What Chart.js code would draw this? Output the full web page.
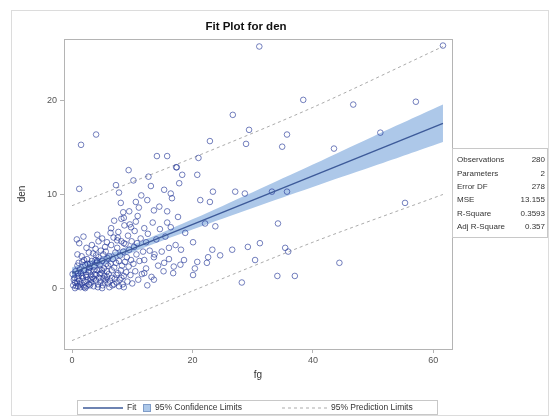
<!DOCTYPE html>
<html>
<head>
<meta charset="utf-8">
<script src="https://cdn.jsdelivr.net/npm/chart.js@4/dist/chart.umd.min.js"></script>
<style>
  html, body { margin: 0; padding: 0; background: #fff; }
  #wrap { width: 550px; height: 417px; position: relative; }
</style>
</head>
<body>
<div id="wrap"><canvas id="fitChart"></canvas></div>
<script>
// observations (fg, den)
const fgValues = [
  31.1, 61.6, 38.4, 26.7, 29.4, 35.7, 28.9, 34.9, 22.9, 21.0, 46.7, 57.1, 51.2, 43.5, 55.3, 44.4, 4.0, 1.5, 14.1, 15.8, 17.4,
  1.2, 7.3, 0.8, 17.3, 18.3, 17.8, 15.3, 16.4, 16.6, 11.5, 12.5, 8.1, 8.5, 8.6, 13.6, 14.5, 15.8, 10.6, 9.8, 6.5, 4.2, 5.0, 5.8, 7.5, 8.6, 10.8, 12.3,
  16.1, 18.1, 12.0, 13.6, 15.3, 16.9, 18.6, 12.0, 13.6, 12.5,
  20.8, 23.4, 21.3, 22.9, 27.1, 28.7, 33.2, 35.7, 22.1, 23.8, 34.2, 20.1, 23.3, 24.6, 26.6, 29.2, 31.2, 35.4, 35.9, 22.6, 20.8, 22.4, 30.4, 20.4, 20.1, 28.2, 34.1, 37.0,
  0.2, 0.4, 0.5, 0.6, 0.8, 0.9, 1.0, 1.1, 1.2, 1.3, 1.4, 1.5, 1.6, 1.7, 1.8, 1.9, 2.0, 2.1, 2.2, 2.3, 2.4, 2.5, 2.6, 2.7, 2.8, 2.9, 3.0, 0.3, 0.7, 1.0, 1.6, 2.2, 2.6, 0.1, 3.0,
  3.1, 3.2, 3.3, 3.4, 3.5, 3.6, 3.7, 3.8, 3.9, 4.0, 4.1, 4.2, 4.3, 4.4, 4.5, 4.6, 4.7, 4.8, 4.9, 5.0, 5.1, 5.2, 5.3, 5.4, 5.5, 5.6, 5.7, 5.8, 5.9, 6.0, 3.3, 3.9, 4.4, 4.7, 5.2, 5.6, 6.0, 3.6, 4.2, 5.0,
  6.1, 6.2, 6.3, 6.4, 6.5, 6.6, 6.7, 6.8, 6.9, 7.0, 7.1, 7.2, 7.3, 7.4, 7.5, 7.6, 7.7, 7.8, 7.9, 8.0, 8.1, 8.2, 8.3, 8.4, 8.5, 8.6, 8.7, 8.8, 8.9, 9.0, 6.4, 7.0, 7.6, 8.2, 8.6,
  9.1, 9.2, 9.3, 9.4, 9.5, 9.6, 9.7, 9.8, 9.9, 10.0, 10.2, 10.3, 10.4, 10.5, 10.7, 10.9, 11.0, 11.2, 11.4, 11.6, 11.8, 12.0, 11.1, 10.6, 9.5,
  12.3, 12.6, 12.9, 13.2, 13.4, 13.7, 14.0, 14.3, 14.6, 14.9, 15.2, 15.5, 15.8, 16.1, 16.4, 16.8, 17.2, 17.6, 18.0, 18.8,
  1.2, 2.4, 0.9, 1.9, 2.8, 9.4, 10.2, 7.8, 12.7, 13.1,
  0.5, 0.9, 1.3, 1.7, 2.0, 2.4, 2.8, 3.2, 3.6, 4.0, 4.3, 4.6, 5.0, 5.4, 5.8, 6.2, 6.6, 7.0, 7.4, 7.8, 8.2, 1.1, 2.0, 3.0, 4.0
];
const denValues = [
  25.8, 25.9, 20.1, 18.5, 16.9, 16.4, 15.4, 15.1, 15.7, 13.9, 19.6, 19.9, 16.6, 14.9, 9.1, 2.7, 16.4, 15.3, 14.1, 14.1, 12.9,
  10.6, 11.0, 5.2, 12.9, 12.1, 11.2, 10.5, 10.1, 9.6, 9.9, 9.4, 9.1, 8.1, 7.5, 8.3, 8.7, 7.0, 7.1, 6.5, 6.4, 5.7, 5.3, 4.9, 5.1, 4.8, 4.8, 4.9,
  4.3, 4.1, 3.0, 3.3, 2.7, 2.3, 3.0, 1.6, 0.9, 0.3,
  12.1, 10.3, 9.4, 9.2, 10.3, 10.1, 10.3, 10.3, 6.9, 6.6, 6.9, 4.9, 4.1, 3.5, 4.1, 4.4, 4.8, 4.3, 3.9, 3.3, 2.8, 2.7, 3.0, 2.1, 1.4, 0.6, 1.3, 1.3,
  0.3, 1.1, 0.0, 1.8, 0.6, 2.4, 0.2, 1.3, 0.8, 2.0, 0.1, 1.6, 0.5, 2.8, 1.1, 0.3, 1.9, 0.7, 2.5, 1.4, 0.2, 3.1, 0.9, 1.7, 0.4, 2.2, 1.0, 0.9, 0.2, 1.6, 3.4, 0.0, 2.6, 1.5, 0.3,
  1.8, 0.6, 2.9, 1.2, 3.7, 0.2, 2.3, 1.5, 4.2, 0.8, 2.7, 1.9, 0.4, 3.3, 1.1, 2.5, 0.7, 4.0, 1.6, 2.9, 0.3, 3.6, 2.1, 1.3, 4.4, 0.9, 2.6, 1.8, 3.2, 0.5, 4.6, 3.0, 5.0, 2.0, 1.0, 3.9, 2.4, 1.0, 2.9, 0.0,
  1.5, 3.4, 0.8, 2.6, 4.6, 1.9, 0.3, 3.1, 5.4, 2.2, 1.0, 3.8, 2.7, 0.6, 4.3, 1.6, 6.0, 2.9, 0.9, 3.5, 1.9, 5.0, 2.4, 0.4, 3.9, 1.3, 6.7, 2.8, 4.7, 1.7, 5.9, 7.2, 5.4, 7.4, 0.1,
  3.3, 0.7, 5.6, 2.3, 4.1, 6.8, 1.4, 3.0, 5.0, 0.5, 2.6, 4.4, 6.1, 1.8, 3.6, 7.7, 0.9, 2.9, 5.3, 1.5, 3.9, 6.4, 8.6, 9.2, 8.2,
  2.1, 5.8, 4.0, 1.2, 7.0, 3.6, 5.2, 2.4, 6.3, 3.9, 1.8, 5.5, 8.2, 3.1, 6.5, 1.6, 4.6, 7.6, 2.5, 5.9,
  4.8, 4.3, 3.6, 5.5, 3.8, 12.6, 11.5, 10.2, 11.9, 10.9,
  0.6, 1.0, 0.4, 1.3, 0.1, 1.2, 1.9, 0.9, 1.9, 1.4, 0.1, 1.5, 1.9, 0.6, 1.2, 0.1, 1.1, 0.4, 1.4, 0.2, 1.1, 2.7, 3.0, 2.6, 3.5
];

// fitted line, 95% confidence band and 95% prediction limits
const fitX = [0, 61.6];
const fitY = [1.6, 17.6];
const bandX = [0, 10, 20, 30, 40, 50, 61.6];
const clUpper = [2.2, 4.6, 7.35, 10.25, 13.2, 16.2, 19.6];
const clLower = [1.0, 3.8, 6.25, 8.55, 10.8, 13.0, 15.6];
const predX = [0, 20, 40, 61.6];
const predUpper = [8.8, 13.9, 19.3, 25.8];
const predLower = [-5.6, -0.3, 4.9, 10.0];

const xTicks = [0, 20, 40, 60];
const yTicks = [0, 10, 20];

const statLabels = ['Observations', 'Parameters', 'Error DF', 'MSE', 'R-Square', 'Adj R-Square'];
const statValues = ['280', '2', '278', '13.155', '0.3593', '0.357'];

const toPts = (xs, ys) => xs.map((x, i) => ({ x: x, y: ys[i] }));

const FONT = '"Liberation Sans", Arial, sans-serif';
const BAND = '#adc8e9';
const FITC = '#3d5a99';
const PREDC = '#ababab';

const framePlugin = {
    id: 'frame',
    beforeDraw(chart) {
        const c = chart.ctx;
        c.save();
        c.fillStyle = '#fff';
        c.fillRect(0, 0, chart.width, chart.height);
        c.strokeStyle = '#dcdcdc';
        c.lineWidth = 1;
        c.strokeRect(11.5, 10.5, 537, 405);
        c.restore();
    },
    afterDraw(chart) {
        const c = chart.ctx;
        const a = chart.chartArea;
        c.save();
        c.strokeStyle = '#b4b4b4';
        c.lineWidth = 1;
        c.strokeRect(Math.round(a.left) + 0.5, Math.round(a.top) + 0.5, Math.round(a.right - a.left), Math.round(a.bottom - a.top));

        // title
        c.fillStyle = '#111';
        c.font = 'bold 11.5px ' + FONT;
        c.textAlign = 'center';
        c.textBaseline = 'middle';
        c.fillText('Fit Plot for den', 246, 27);

        // stats table
        c.strokeStyle = '#c8c8c8';
        c.strokeRect(452.5, 148.5, 95, 89);
        c.font = '8px ' + FONT;
        c.fillStyle = '#333';
        statLabels.forEach((lab, i) => {
            const y = 160 + i * 13.4;
            c.textAlign = 'left';
            c.fillText(lab, 457, y);
            c.textAlign = 'right';
            c.fillText(statValues[i], 545, y);
        });

        // legend
        c.strokeStyle = '#c8c8c8';
        c.strokeRect(77.5, 400.5, 360, 14);
        const ly = 408;
        c.strokeStyle = FITC;
        c.lineWidth = 1.3;
        c.beginPath(); c.moveTo(83, ly); c.lineTo(123, ly); c.stroke();
        c.fillStyle = BAND;
        c.fillRect(143, ly - 4, 8, 8);
        c.lineWidth = 1;
        c.strokeStyle = '#7f9cc8';
        c.strokeRect(143.5, ly - 3.5, 7, 7);
        c.strokeStyle = PREDC;
        c.setLineDash([3, 3]);
        c.beginPath(); c.moveTo(282, ly); c.lineTo(327, ly); c.stroke();
        c.setLineDash([]);
        c.fillStyle = '#333';
        c.font = '8.5px ' + FONT;
        c.textAlign = 'left';
        c.fillText('Fit', 127, ly);
        c.fillText('95% Confidence Limits', 155, ly);
        c.fillText('95% Prediction Limits', 331, ly);
        c.restore();
    }
};

new Chart(document.getElementById('fitChart'), {
    type: 'scatter',
    data: {
        datasets: [
            { type: 'line', data: toPts(bandX, clLower), borderWidth: 0, pointRadius: 0, borderColor: BAND, fill: false, tension: 0.4, order: 5 },
            { type: 'line', data: toPts(bandX, clUpper), borderWidth: 0, pointRadius: 0, borderColor: BAND, backgroundColor: BAND, fill: 0, tension: 0.4, order: 4 },
            { type: 'line', data: toPts(predX, predUpper), borderColor: PREDC, borderWidth: 1, borderDash: [3, 3], pointRadius: 0, fill: false, tension: 0.3, order: 3 },
            { type: 'line', data: toPts(predX, predLower), borderColor: PREDC, borderWidth: 1, borderDash: [3, 3], pointRadius: 0, fill: false, tension: 0.3, order: 3 },
            { data: toPts(fgValues, denValues), pointStyle: 'circle', pointRadius: 2.8, borderWidth: 1,
              borderColor: 'rgba(32, 52, 150, 0.62)', backgroundColor: 'rgba(0,0,0,0)', order: 2 },
            { type: 'line', data: toPts(fitX, fitY), borderColor: FITC, borderWidth: 1.4, pointRadius: 0, fill: false, order: 1 }
        ]
    },
    options: {
        responsive: true,
        maintainAspectRatio: false,
        animation: false,
        events: [],
        layout: { padding: { left: 12, right: 98, top: 39, bottom: 36 } },
        plugins: { legend: { display: false }, tooltip: { enabled: false } },
        scales: {
            x: {
                type: 'linear', min: -1.33, max: 63.1,
                afterBuildTicks: s => { s.ticks = xTicks.map(v => ({ value: v })); },
                afterFit: s => { s.height = 32; },
                grid: { display: true, drawOnChartArea: false, tickLength: 4, color: '#b4b4b4' },
                border: { color: '#b4b4b4' },
                ticks: { color: '#555', font: { size: 9, family: FONT }, padding: 2, maxRotation: 0 },
                title: { display: true, text: 'fg', color: '#333', font: { size: 10, family: FONT }, padding: 0 }
            },
            y: {
                type: 'linear', min: -6.5, max: 26.6,
                afterBuildTicks: s => { s.ticks = yTicks.map(v => ({ value: v })); },
                afterFit: s => { s.width = 52; },
                grid: { display: true, drawOnChartArea: false, tickLength: 4, color: '#b4b4b4' },
                border: { color: '#b4b4b4' },
                ticks: { color: '#555', font: { size: 9, family: FONT }, padding: 3 },
                title: { display: true, text: 'den', color: '#333', font: { size: 10, family: FONT }, padding: 4 }
            }
        }
    },
    plugins: [framePlugin]
});
</script>
</body>
</html>
